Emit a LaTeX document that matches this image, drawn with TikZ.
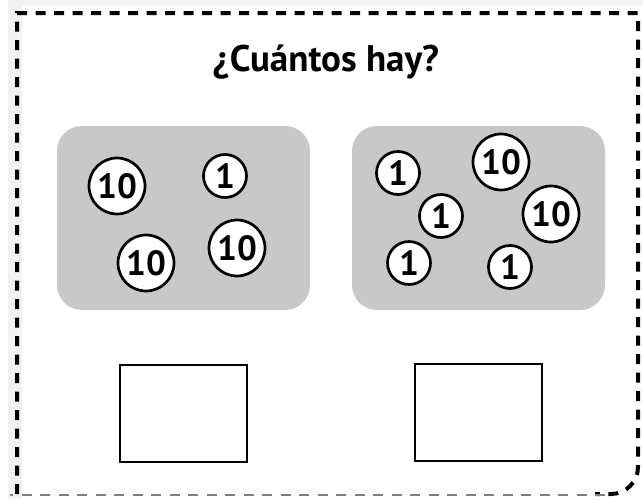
\documentclass[tikz,border=0pt]{standalone}
\usepackage{fontspec}
\setmainfont{PT Sans}
\begin{document}
\begin{tikzpicture}[x=1pt,y=-1pt,
  panel/.style={fill=panelgray,draw=none,rounded corners=25pt},
  ten/.style={circle,draw=black,line width=2.7pt,fill=white,minimum size=56pt,inner sep=0pt,font=\fontsize{35}{35}\selectfont\bfseries},
  one/.style={circle,draw=black,line width=2.7pt,fill=white,minimum size=43pt,inner sep=0pt,font=\fontsize{35}{35}\selectfont\bfseries},
  answer/.style={draw=black,line width=2.5pt,fill=white},
  border/.style={draw=black,line width=4pt,dash pattern=on 10pt off 8.5pt}]
\definecolor{panelgray}{HTML}{C8C8C8}
\definecolor{outgray}{HTML}{F2F2F2}
\useasboundingbox (0,0) rectangle (643,499);
\fill[white] (0,0) rectangle (643,499);
\fill[outgray] (8,0) rectangle (22,499);
\fill[outgray] (22,0) rectangle (643,6);
% dashed border
\draw[border] (17,494) -- (17,13) -- (638,13) -- (638,420) [rounded corners=27pt] -- (638,494) -- (595,494);
\draw[draw=gray,line width=1.5pt,dash pattern=on 10pt off 8.5pt] (605,495) -- (10,495);
% title
\node[font=\fontsize{37}{37}\selectfont\bfseries] (title) at (326,62) {¿Cuántos hay?};
% panels
\node[panel,minimum width=253pt,minimum height=184pt] (lp) at (183.5,218) {};
\node[panel,minimum width=253pt,minimum height=184pt] (rp) at (478.5,218) {};
% left coins
\node[ten] (l1) at (117,186) {10};
\node[one] (l2) at (225,176) {1};
\node[ten] (l3) at (237,248) {10};
\node[ten] (l4) at (146,263) {10};
% right coins
\node[one] (r1) at (398,173) {1};
\node[ten] (r2) at (501,162) {10};
\node[one] (r3) at (441,216) {1};
\node[ten] (r4) at (551,214) {10};
\node[one] (r5) at (409,263) {1};
\node[one] (r6) at (510,267) {1};
% answer boxes
\node[answer,minimum width=127pt,minimum height=97pt] (la) at (183.5,413.5) {};
\node[answer,minimum width=127pt,minimum height=97pt] (ra) at (478.5,412.5) {};
\end{tikzpicture}
\end{document}
